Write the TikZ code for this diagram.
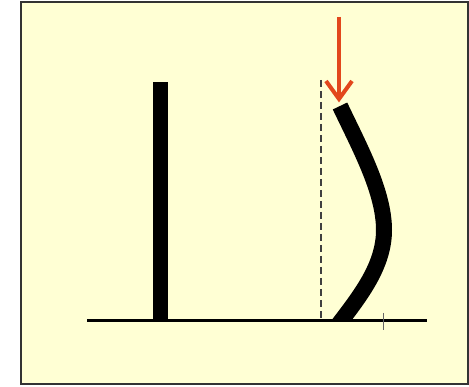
\documentclass[tikz,border=0pt]{standalone}
\definecolor{bgyellow}{HTML}{FFFFD4}
\definecolor{arrowred}{HTML}{E2471C}
\definecolor{framegray}{HTML}{333333}
\begin{document}
\begin{tikzpicture}[x=1pt,y=-1pt,
  beam/.style={line width=16pt,line cap=butt},
  ground/.style={line width=3pt},
  guide/.style={line width=2pt,dash pattern=on 7pt off 4pt,color=black!75},
  push/.style={line width=4pt,color=arrowred,line cap=butt}]
\useasboundingbox (0,0) rectangle (469,387);
\fill[white] (0,0) rectangle (469,387);
\draw[line width=2pt,color=framegray,fill=bgyellow] (21,2) rectangle (468,384);
% straight post
\fill (153,82) rectangle (168,321);
% dashed reference line
\draw[guide] (321,80) -- (321,321);
% bent column
\begin{scope}
\clip (300,100) rectangle (420,321);
\draw[beam] (340,106) .. controls (360,148) and (384,192) .. (384,230)
  .. controls (384,266) and (360,296) .. (338,325);
\end{scope}
% ground
\draw[ground] (87,321) -- (427,321);
\draw[black!60,line width=0.6pt] (383,313) -- (383,330);
% force arrow
\draw[push] (339,17) -- (339,97);
\draw[push,line join=miter] (326,81) -- (339,99) -- (352,81);
\end{tikzpicture}
\end{document}
